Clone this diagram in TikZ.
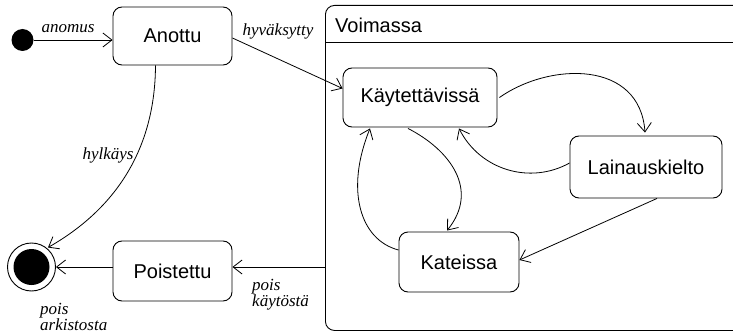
\documentclass[tikz,border=0pt]{standalone}
\usepackage{fontspec}
\setmainfont{Liberation Sans}
\newfontfamily\lblfont{Liberation Serif}
\usetikzlibrary{arrows.meta,calc}
\begin{document}
\begin{tikzpicture}[x=1pt,y=-1pt,
  state/.style={draw, rounded corners=9pt, line width=0.9pt, font=\fontsize{20}{24}\selectfont, inner sep=0pt},
  lbl/.style={font=\lblfont\itshape\fontsize{17}{16}\selectfont, inner sep=0pt, align=left},
  tr/.style={draw, line width=0.8pt, -{Straight Barb[length=9pt,width=14pt]}}]
\useasboundingbox (0,0) rectangle (733,334);
% container
\node[draw, rounded corners=9pt, line width=0.9pt, minimum width=420pt, minimum height=325pt, anchor=north west, inner sep=0pt] (vo) at (325,5) {};
\draw[line width=0.9pt] (vo.west |- 0,42) -- (745,42);
\node[anchor=west, font=\fontsize{20}{24}\selectfont, inner sep=0pt] (vot) at (335,25) {Voimassa};
% states
\node[circle, fill, minimum size=22pt, inner sep=0pt] (ini) at (22.5,40) {};
\node[state, minimum width=119pt, minimum height=58pt] (an) at (172.5,36) {Anottu};
\node[state, minimum width=119pt, minimum height=60pt] (po) at (172.5,271) {Poistettu};
\node[circle, draw, line width=0.9pt, minimum size=48pt, inner sep=0pt] (fin) at (31.5,267) {};
\fill (fin.center) circle (18pt);
\node[state, minimum width=154pt, minimum height=59pt] (k) at (420,97.5) {Käytettävissä};
\node[state, minimum width=152pt, minimum height=62pt] (l) at (646,167) {Lainauskielto};
\node[state, minimum width=120pt, minimum height=60pt] (ka) at (459,262) {Kateissa};
% transitions
\draw[tr] (ini) -- (an.west |- ini);
\node[lbl] (la) at (68,29) {anomus};
\draw[tr] ($(an.east)+(0,2)$) -- ($(k.west)+(0,-9)$);
\node[lbl] (lh) at (278,31) {hyväksytty};
\draw[tr] ($(an.south)+(-17,0)$) .. controls (155,160) and (105,215) .. ($(fin.center)+(16.5,-19.5)$);
\node[lbl] (lk) at (108,155) {hylkäys};
\draw[tr] (vo.west |- fin) -- (po.east |- fin);
\node[lbl, anchor=north west] (lpk) at (252,279) {pois\\käytöstä};
\draw[tr] (po.west |- fin) -- (fin.east);
\node[lbl, anchor=north west] (lpa) at (40,303) {pois\\arkistosta};
% inner transitions
\draw[tr] ($(k.east)+(2,0)$) .. controls (550,62) and (640,60) .. ($(l.north)+(-1,-3)$);
\draw[tr] ($(l.west)+(0,-4)$) .. controls (530,185) and (480,170) .. ($(k.south)+(39,1)$);
\draw[tr] ($(k.south)+(-12,1)$) .. controls (450,150) and (480,190) .. ($(ka.north)+(-12,-1)$);
\draw[tr] ($(ka.west)+(0,-12)$) .. controls (360,240) and (345,190) .. ($(k.south)+(-50,1)$);
\draw[tr] ($(l.south)+(11,0)$) -- ($(ka.east)+(0,-2)$);
\end{tikzpicture}
\end{document}
